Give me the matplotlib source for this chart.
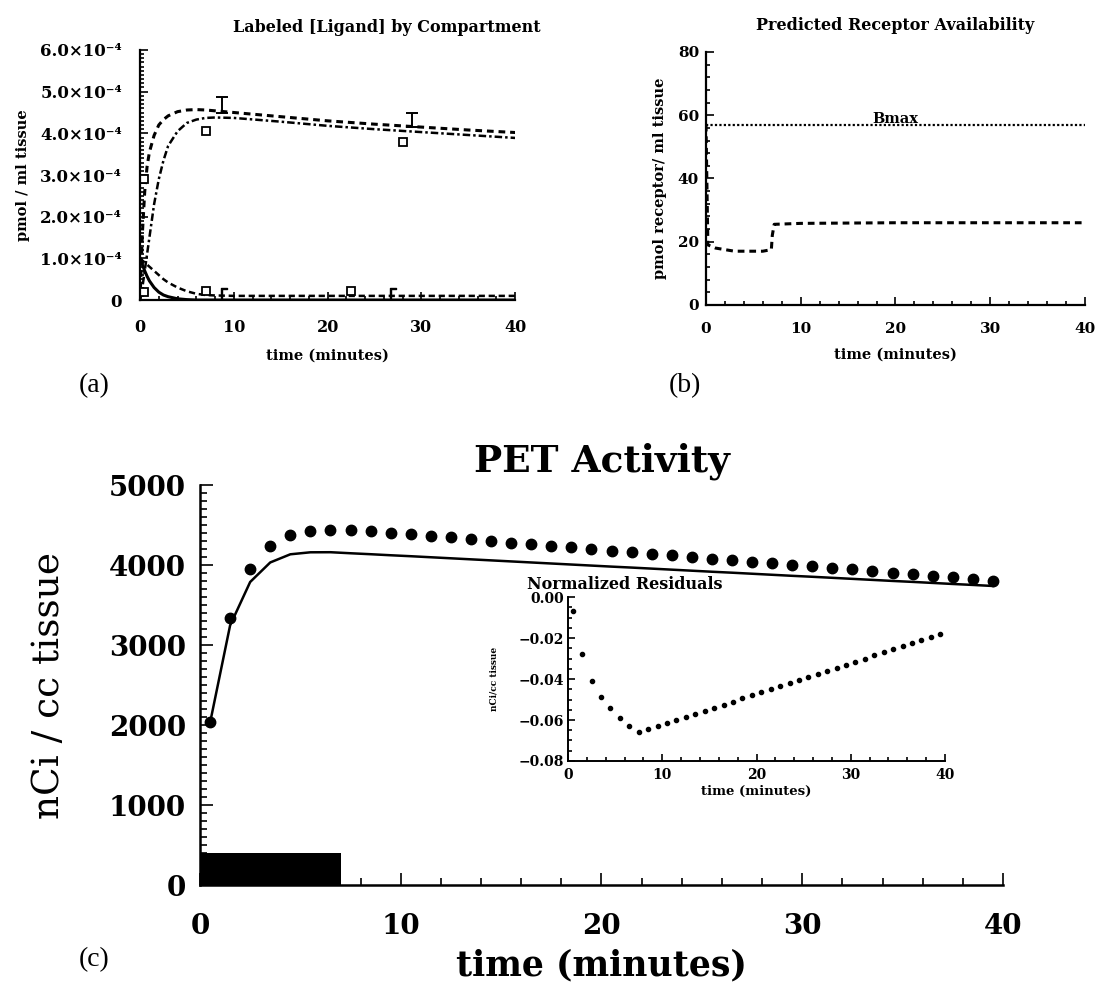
import numpy as np
import matplotlib
matplotlib.use("Agg")
import matplotlib.pyplot as plt
from matplotlib.ticker import AutoMinorLocator

plt.rcParams['font.family'] = ['DejaVu Serif']

# ---- (a) labeled ligand by compartment, units of 1e-4 pmol/ml ----
t_a = [0, 0.25, 0.5, 0.75, 1, 1.5, 2, 2.5, 3, 4, 5, 6, 7, 8, 10, 15, 20, 25, 30, 35, 40]
total_a = [0, 1.6, 2.6, 3.2, 3.55, 3.95, 4.2, 4.33, 4.42, 4.52, 4.56, 4.57, 4.56, 4.54,
           4.5, 4.4, 4.3, 4.22, 4.15, 4.08, 4.02]
bound_a = [0, 0.3, 0.7, 1.1, 1.5, 2.3, 2.9, 3.35, 3.7, 4.05, 4.25, 4.33, 4.37, 4.38,
           4.37, 4.28, 4.18, 4.1, 4.03, 3.96, 3.89]
free_a = [1.0, 0.85, 0.7, 0.57, 0.46, 0.3, 0.19, 0.12, 0.08, 0.03, 0.01, 0.0, 0.0, 0.0,
          0.0, 0.0, 0.0, 0.0, 0.0, 0.0, 0.0]
nonspec_a = [1.0, 0.95, 0.9, 0.85, 0.8, 0.7, 0.6, 0.5, 0.42, 0.3, 0.21, 0.15, 0.12, 0.11,
             0.1, 0.1, 0.1, 0.1, 0.1, 0.1, 0.1]
sq_t = [0.4, 0.4, 7, 7, 22.5, 28]
sq_y = [2.9, 0.2, 4.05, 0.22, 0.22, 3.8]
cap_t = [8.7, 29]
cap_lo = [4.5, 4.15]
cap_hi = [4.87, 4.5]
gam_t = [9, 27]
gam_y = [0.18, 0.18]
yticks_a = [0, 1, 2, 3, 4, 5, 6]
ylabels_a = ['0', '1.0×10⁻⁴', '2.0×10⁻⁴', '3.0×10⁻⁴', '4.0×10⁻⁴', '5.0×10⁻⁴', '6.0×10⁻⁴']

# ---- (b) receptor availability ----
t_b = [0, 0.2, 1, 2, 3, 4, 5, 6, 6.9, 7.0, 7.2, 10, 20, 30, 40]
free_rec = [57, 19, 18, 17.5, 17, 17, 17, 17, 17.5, 22, 25.5, 25.8, 26, 26, 26]
bmax = 57

# ---- (c) PET activity ----
t_c = np.arange(0.5, 40, 1.0)
pet_meas = [2040, 3340, 3950, 4240, 4370, 4420, 4440, 4440, 4425, 4405,
            4385, 4365, 4345, 4325, 4300, 4280, 4260, 4240, 4220, 4200,
            4180, 4160, 4140, 4120, 4100, 4080, 4060, 4040, 4020, 4000,
            3985, 3965, 3945, 3925, 3905, 3885, 3865, 3845, 3825, 3805]
pet_fit = [2025, 3245, 3788, 4032, 4134, 4159, 4160, 4147, 4135, 4122,
           4110, 4097, 4084, 4071, 4058, 4045, 4032, 4019, 4006, 3993,
           3980, 3968, 3955, 3942, 3929, 3916, 3904, 3891, 3878, 3865,
           3853, 3840, 3827, 3814, 3801, 3789, 3776, 3763, 3751, 3738]
resid = [-0.007, -0.028, -0.041, -0.049, -0.054, -0.059, -0.063, -0.066, -0.0645, -0.063,
         -0.0615, -0.060, -0.0585, -0.057, -0.0555, -0.054, -0.0525, -0.051, -0.0495, -0.048,
         -0.0465, -0.045, -0.0435, -0.042, -0.0405, -0.039, -0.0375, -0.036, -0.0345, -0.033,
         -0.0315, -0.030, -0.0285, -0.027, -0.0255, -0.024, -0.0225, -0.021, -0.0195, -0.018]
infusion = (0, 7, 400)  # start, end, bar height


def style_axes(ax, lw=1.6):
    for s in ['top', 'right']:
        ax.spines[s].set_visible(False)
    for s in ['left', 'bottom']:
        ax.spines[s].set_linewidth(lw)
    ax.tick_params(which='both', direction='in', width=1.2)


def bold_ticks(ax):
    for lab in ax.get_xticklabels() + ax.get_yticklabels():
        lab.set_fontweight('bold')


fig = plt.figure(figsize=(11, 9.86), dpi=100)

# (a)
ax_a = fig.add_axes([0.1273, 0.6957, 0.341, 0.2536])
ax_a.plot(t_a, total_a, color='k', lw=2.2, ls=(0, (2.2, 1.6)))
ax_a.plot(t_a, bound_a, color='k', lw=1.8, ls=(0, (3, 1.2, 1, 1.2)))
ax_a.plot(t_a, free_a, color='k', lw=2.2)
ax_a.plot(t_a, nonspec_a, color='k', lw=1.8, ls=(0, (2.5, 1.5)))
ax_a.plot(sq_t, sq_y, 's', mfc='white', mec='k', mew=1.3, ms=5.5, ls='none')
ax_a.errorbar(cap_t, cap_lo, yerr=[np.zeros(len(cap_t)), np.subtract(cap_hi, cap_lo)],
              fmt='none', ecolor='k', elinewidth=1.4, capsize=4, capthick=1.4)
ax_a.plot(gam_t, gam_y, ls='none', marker=r'$\Gamma$', color='k', ms=7)
ax_a.set_xlim(0, 40)
ax_a.set_ylim(0, 6)
ax_a.set_xticks([0, 10, 20, 30, 40])
ax_a.xaxis.set_minor_locator(AutoMinorLocator(5))
ax_a.set_yticks(yticks_a)
ax_a.set_yticklabels(ylabels_a)
ax_a.yaxis.set_minor_locator(AutoMinorLocator(10))
style_axes(ax_a)
ax_a.tick_params(which='major', length=6)
ax_a.tick_params(which='minor', length=3)
ax_a.tick_params(axis='y', labelsize=12, pad=13)
ax_a.tick_params(axis='x', labelsize=11.5, pad=14)
bold_ticks(ax_a)
ax_a.set_xlabel('time (minutes)', fontsize=10.5, fontweight='bold', labelpad=9)
ax_a.set_ylabel('pmol / ml tissue', fontsize=10.5, fontweight='bold', labelpad=7)
fig.text(0.352, 0.972, 'Labeled [Ligand] by Compartment', ha='center', va='center',
         fontsize=11.5, fontweight='bold')
fig.text(0.086, 0.609, '(a)', ha='center', va='center', fontsize=20,
         family='Liberation Serif')

# (b)
ax_b = fig.add_axes([0.6418, 0.6907, 0.3445, 0.2566])
ax_b.plot([0, 40], [bmax, bmax], color='k', lw=1.6, ls=(0, (1, 1)))
ax_b.plot(t_b, free_rec, color='k', lw=2.2, ls=(0, (2.2, 1.6)))
ax_b.text(20, bmax - 0.3, 'Bmax', ha='center', va='bottom', fontsize=10.5,
          fontweight='bold')
ax_b.set_xlim(0, 40)
ax_b.set_ylim(0, 80)
ax_b.set_xticks([0, 10, 20, 30, 40])
ax_b.set_yticks([0, 20, 40, 60, 80])
ax_b.xaxis.set_minor_locator(AutoMinorLocator(5))
ax_b.yaxis.set_minor_locator(AutoMinorLocator(5))
style_axes(ax_b)
ax_b.tick_params(which='major', length=6)
ax_b.tick_params(which='minor', length=3)
ax_b.tick_params(axis='y', labelsize=11, pad=5)
ax_b.tick_params(axis='x', labelsize=11, pad=12)
bold_ticks(ax_b)
ax_b.set_xlabel('time (minutes)', fontsize=10.5, fontweight='bold', labelpad=9)
ax_b.set_ylabel('pmol receptor/ ml tissue', fontsize=10.5, fontweight='bold', labelpad=8)
fig.text(0.814, 0.974, 'Predicted Receptor Availability', ha='center', va='center',
         fontsize=11.5, fontweight='bold')
fig.text(0.623, 0.609, '(b)', ha='center', va='center', fontsize=20,
         family='Liberation Serif')

# (c)
ax_c = fig.add_axes([0.1818, 0.1024, 0.730, 0.4057])
ax_c.bar(infusion[0], infusion[2], width=infusion[1] - infusion[0], align='edge',
         color='k', zorder=1)
ax_c.plot(t_c, pet_fit, color='k', lw=1.8, zorder=2)
ax_c.plot(t_c, pet_meas, 'o', color='k', ms=7.5, zorder=3)
ax_c.set_xlim(0, 40)
ax_c.set_ylim(0, 5000)
ax_c.set_xticks([0, 10, 20, 30, 40])
ax_c.set_yticks([0, 1000, 2000, 3000, 4000, 5000])
ax_c.xaxis.set_minor_locator(AutoMinorLocator(5))
ax_c.yaxis.set_minor_locator(AutoMinorLocator(10))
style_axes(ax_c, lw=1.8)
ax_c.tick_params(which='major', length=9)
ax_c.tick_params(which='minor', length=5)
ax_c.tick_params(axis='y', labelsize=20, pad=10)
ax_c.tick_params(axis='x', labelsize=20, pad=20)
bold_ticks(ax_c)
ax_c.set_xlabel('time (minutes)', fontsize=25, fontweight='bold', labelpad=6)
ax_c.set_ylabel('nCi / cc tissue', fontsize=27, labelpad=30)
ax_c.set_title('PET Activity', fontsize=27, fontweight='bold', pad=10)
fig.text(0.086, 0.027, '(c)', ha='center', va='center', fontsize=20,
         family='Liberation Serif')

# residual inset
ax_r = fig.add_axes([0.5164, 0.2282, 0.3427, 0.1663])
ax_r.plot(t_c, resid, 'o', color='k', ms=3)
ax_r.set_xlim(0, 40)
ax_r.set_ylim(-0.08, 0)
ax_r.set_xticks([0, 10, 20, 30, 40])
ax_r.set_yticks([-0.08, -0.06, -0.04, -0.02, 0.0])
ax_r.set_yticklabels(['−0.08', '−0.06', '−0.04', '−0.02', '0.00'])
ax_r.xaxis.set_minor_locator(AutoMinorLocator(5))
ax_r.yaxis.set_minor_locator(AutoMinorLocator(4))
style_axes(ax_r, lw=1.4)
ax_r.tick_params(which='major', length=5)
ax_r.tick_params(which='minor', length=3)
ax_r.tick_params(axis='y', labelsize=10, pad=3)
ax_r.tick_params(axis='x', labelsize=10, pad=5)
bold_ticks(ax_r)
ax_r.set_xlabel('time (minutes)', fontsize=9.5, fontweight='bold', labelpad=2)
ax_r.set_ylabel('nCi/cc tissue', fontsize=6.5, fontweight='bold', labelpad=14)
ax_r.set_title('Normalized Residuals', fontsize=11.5, fontweight='bold', pad=6,
               loc='left', x=-0.11)

fig.savefig('out.png', dpi=100)
